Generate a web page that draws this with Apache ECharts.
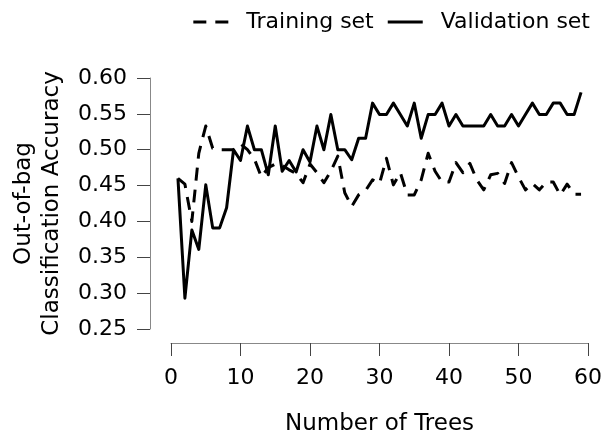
<!DOCTYPE html>
<html>
<head>
<meta charset="utf-8">
<script src="https://cdn.jsdelivr.net/npm/echarts@6/dist/echarts.min.js"></script>
<style>
  html, body { margin: 0; padding: 0; background: #fff; }
  #chart { width: 603px; height: 435px; }
</style>
</head>
<body>
<div id="chart"></div>
<script>
// ---- data ----
const trees = [1,2,3,4,5,6,7,8,9,10,11,12,13,14,15,16,17,18,19,20,
  21,22,23,24,25,26,27,28,29,30,31,32,33,34,35,36,37,38,39,40,
  41,42,43,44,45,46,47,48,49,50,51,52,53,54,55,56,57,58,59];

const trainingSet = [0.460,0.452,0.400,0.495,0.533,0.502,0.500,0.500,0.500,0.508,
  0.500,0.487,0.462,0.475,0.480,0.478,0.472,0.467,0.454,0.480,
  0.468,0.454,0.470,0.491,0.440,0.421,0.437,0.443,0.458,0.453,
  0.488,0.451,0.468,0.437,0.437,0.458,0.495,0.470,0.455,0.455,
  0.482,0.468,0.481,0.458,0.444,0.465,0.467,0.453,0.482,0.462,
  0.444,0.453,0.444,0.455,0.455,0.437,0.452,0.438,0.438];

const validationSet = [0.460,0.293,0.388,0.361,0.451,0.391,0.391,0.419,0.500,0.485,
  0.533,0.500,0.500,0.465,0.533,0.470,0.485,0.469,0.500,0.483,
  0.533,0.500,0.549,0.500,0.500,0.486,0.516,0.516,0.565,0.549,
  0.549,0.565,0.549,0.533,0.565,0.516,0.549,0.549,0.565,0.533,
  0.549,0.533,0.533,0.533,0.533,0.549,0.533,0.533,0.549,0.533,
  0.549,0.565,0.549,0.549,0.565,0.565,0.549,0.549,0.580];

const seriesNames = ['Training set', 'Validation set'];
const xTitle = 'Number of Trees';
const yTitle = 'Out-of-bag\nClassification Accuracy';

// ---- chart ----
const FONT = 'DejaVu Sans, Liberation Sans, sans-serif';
const FS = 22;
const FS_TITLE = 23;
const chart = echarts.init(document.getElementById('chart'), null, { renderer: 'canvas' });

const pairs = (ys) => trees.map((t, i) => [t, ys[i]]);

chart.setOption({
  animation: false,
  backgroundColor: '#ffffff',
  textStyle: { fontFamily: FONT, color: '#000' },
  grid: { left: 171, right: 15, top: 78, bottom: 106, containLabel: false, outerBoundsMode: 'none' },
  legend: {
    right: 8,
    top: 6,
    itemWidth: 35,
    itemHeight: 3,
    itemGap: 14,
    textStyle: { fontFamily: FONT, fontSize: FS, color: '#000', padding: [0, 0, 0, 13] },
    data: [
      { name: seriesNames[0], icon: 'path://M0,0H13V3H0Z M22,0H35V3H22Z' },
      { name: seriesNames[1], icon: 'path://M0,0H35V3H0Z' }
    ]
  },
  xAxis: {
    type: 'value',
    min: 0, max: 60, interval: 10,
    offset: 14,
    name: xTitle,
    nameLocation: 'middle',
    nameGap: 70,
    nameTextStyle: { fontFamily: FONT, fontSize: FS_TITLE, color: '#000' },
    axisLine: { show: true, onZero: false, lineStyle: { color: '#888', width: 1 } },
    axisTick: { show: true, length: 13, lineStyle: { color: '#444', width: 1 } },
    axisLabel: { margin: 24, fontFamily: FONT, fontSize: FS, color: '#000' },
    splitLine: { show: false }
  },
  yAxis: {
    type: 'value',
    min: 0.25, max: 0.60, interval: 0.05,
    offset: 21,
    name: yTitle,
    nameLocation: 'middle',
    nameGap: 84,
    nameRotate: 90,
    nameTextStyle: { fontFamily: FONT, fontSize: FS_TITLE, color: '#000', lineHeight: 28 },
    axisLine: { show: true, onZero: false, lineStyle: { color: '#888', width: 1 } },
    axisTick: { show: true, length: 13, lineStyle: { color: '#444', width: 1 } },
    axisLabel: { margin: 23, fontFamily: FONT, fontSize: FS, color: '#000',
      formatter: (v) => v.toFixed(2) },
    splitLine: { show: false }
  },
  series: [
    {
      name: seriesNames[0],
      type: 'line',
      data: pairs(trainingSet),
      symbol: 'none',
      lineStyle: { color: '#000', width: 3, type: [13, 9], cap: 'butt', join: 'round' },
      itemStyle: { color: '#000' },
      z: 3
    },
    {
      name: seriesNames[1],
      type: 'line',
      data: pairs(validationSet),
      symbol: 'none',
      lineStyle: { color: '#000', width: 3, type: 'solid', join: 'round' },
      itemStyle: { color: '#000' },
      z: 2
    }
  ]
});
</script>
</body>
</html>
